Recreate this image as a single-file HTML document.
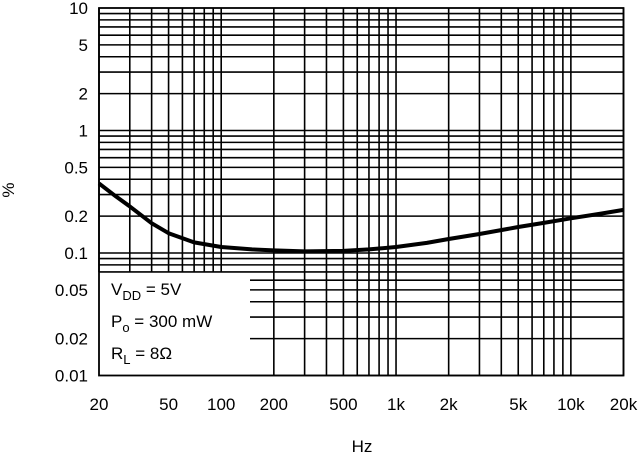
<!DOCTYPE html>
<html><head><meta charset="utf-8"><style>
body{margin:0;background:#fff;width:640px;height:456px;overflow:hidden}
svg{font-family:"Liberation Sans",sans-serif}
</style></head><body>
<svg id="chart" width="640" height="456" viewBox="0 0 640 456" xmlns="http://www.w3.org/2000/svg"></svg>
<script>
const freqs=[20,25,30,40,50,70,100,150,200,300,500,700,1000,1500,2000,3000,5000,7000,10000,15000,20000];
const thd=[0.37,0.29,0.24,0.175,0.145,0.122,0.112,0.107,0.105,0.103,0.104,0.107,0.112,0.121,0.13,0.143,0.163,0.176,0.192,0.21,0.225];
const xTicks=[20,50,100,200,500,1000,2000,5000,10000,20000];
const xTickLabels=["20","50","100","200","500","1k","2k","5k","10k","20k"];
const yTicks=[10,5,2,1,0.5,0.2,0.1,0.05,0.02,0.01];
const yTickLabels=["10","5","2","1","0.5","0.2","0.1","0.05","0.02","0.01"];
const NS="http://www.w3.org/2000/svg";
const svg=document.getElementById('chart');
const L=99,R=623.5,T=8,B=375.5;
const x=f=>L+(Math.log10(f)-Math.log10(20))/3*(R-L);
const y=v=>B-(Math.log10(v)+2)/3*(B-T);
function mk(t,a){const e=document.createElementNS(NS,t);for(const k in a)e.setAttribute(k,a[k]);svg.appendChild(e);return e;}
// vertical grid
for(let d=10;d<=10000;d*=10){for(let m=1;m<=9;m++){const f=d*m;if(f<20||f>20000)continue;
 const X=x(f);const inBox=X<250;
 const g=mk('line',{x1:X,x2:X,y1:T,y2:inBox?y(0.07):B,stroke:'#000','stroke-width':1.6});
 }}
// horizontal grid
for(let d=0.01;d<=1.001;d*=10){for(let m=1;m<=9;m++){const v=d*m;
 const Y=y(v);const inBox=v<0.069;
 const g=mk('line',{x1:inBox?250:L,x2:R,y1:Y,y2:Y,stroke:'#000','stroke-width':1.6});
 }}
const fr=mk('rect',{x:L,y:T,width:R-L,height:B-T,fill:'none',stroke:'#000','stroke-width':1.8});

// curve
let d='';freqs.forEach((f,i)=>{d+=(i?'L':'M')+x(f).toFixed(1)+','+y(thd[i]).toFixed(1);});
const c=mk('path',{d:d,fill:'none',stroke:'#000','stroke-width':4,'stroke-linejoin':'round'});

// ticks
xTicks.forEach((f,i)=>{const t=mk('text',{x:x(f),y:410,'text-anchor':'middle','font-size':17});t.textContent=xTickLabels[i];
 });
yTicks.forEach((v,i)=>{const t=mk('text',{x:88,y:y(v)+6,'text-anchor':'end','font-size':17});t.textContent=yTickLabels[i];
 });
</script>
<svg style="position:absolute;left:0;top:0" width="640" height="456">
<text x="14" y="190" transform="rotate(-90 14 190)" text-anchor="middle" font-size="17" font-family="Liberation Sans">%</text>
<text x="362" y="452" text-anchor="middle" font-size="17" font-family="Liberation Sans">Hz</text>
<g font-family="Liberation Sans" font-size="17">
<text x="111" y="295">V<tspan font-size="13" dy="5">DD</tspan><tspan dy="-5"> = 5V</tspan></text>
<text x="111" y="327">P<tspan font-size="13" dy="5">o</tspan><tspan dy="-5"> = 300 mW</tspan></text>
<text x="111" y="359">R<tspan font-size="13" dy="5">L</tspan><tspan dy="-5"> = 8Ω</tspan></text>
</g>
</svg>
</body></html>
